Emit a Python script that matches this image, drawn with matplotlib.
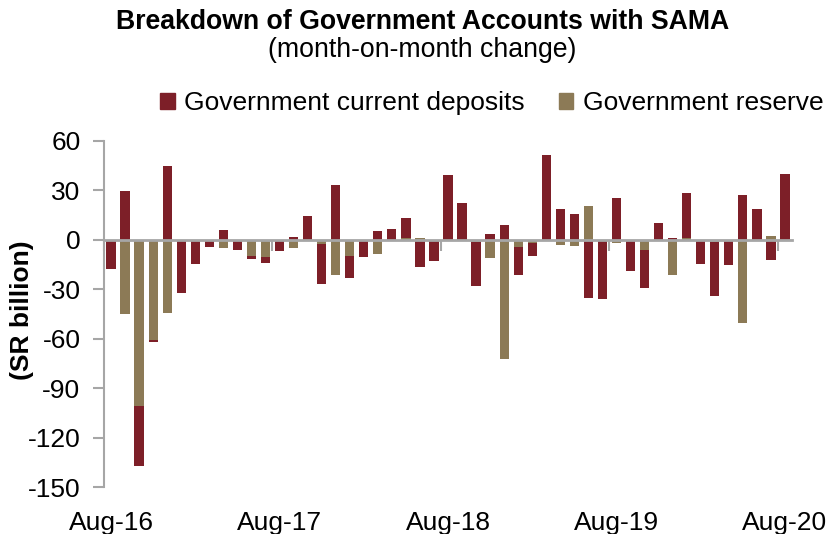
import numpy as np
import pandas as pd
import matplotlib
matplotlib.use('Agg')
import matplotlib.pyplot as plt
from matplotlib.patches import Patch

plt.rcParams['font.family'] = ['Liberation Sans', 'DejaVu Sans']
plt.rcParams['axes.unicode_minus'] = False

# months Aug-16 .. Aug-20
months = pd.date_range('2016-08-01', '2020-08-01', freq='MS')
x_labels = ['Aug-16', 'Aug-17', 'Aug-18', 'Aug-19', 'Aug-20']

# month-on-month change, SR billion
deposits = [-17.7, 29.4, -36.4, -1.4, 44.7, -32.2, -14.9, -4.2, 6.0, -6.4, -1.8, -3.6,
            -6.6, 1.6, 14.7, -23.7, 33.0, -13.5, -10.3, 5.4, 6.6, 12.0, -16.7, -12.7,
            39.2, 22.3, -27.0, 3.4, 9.3, -17.1, -7.4, 51.3, 18.7, 15.5, -35.0, -35.8,
            25.2, -19.1, -22.9, 10.5, 1.4, 27.2, -14.7, -33.0, -15.5, 27.0, 18.7, -12.3,
            40.2]
reserve = [0, -45.3, -100.6, -60.6, -44.5, 0, 0, 0, -5.0, 0, -10.0, -10.3,
           0, -4.8, 0, -2.8, -21.1, -9.7, 0, -8.7, 0, 1.0, 1.0, 0,
           0, 0, -1.0, -11.3, -72.2, -4.4, -2.2, 0, -3.2, -3.8, 20.3, 0,
           -1.8, 0, -6.2, 0, -21.1, 1.0, 0, -1.2, 0, -50.3, 0, 2.2,
           0]

red = '#7D1F28'
tan = '#8C7A56'
grey = '#A6A6A6'

dep = np.array(deposits)
res = np.array(reserve)
x = np.arange(len(months))

# reserve sits next to zero, deposits stacked beyond it (same sign side)
dep_bottom = np.where(dep >= 0, np.maximum(res, 0), np.minimum(res, 0))

fig = plt.figure(figsize=(8.35, 5.34), dpi=100)
ax = fig.add_axes([104/835, 1-487/534, (792-104)/835, (487-141)/534])

ax.bar(x, res, width=0.66, color=tan, zorder=2)
ax.bar(x, dep, bottom=dep_bottom, width=0.66, color=red, zorder=2)

ax.set_xlim(-0.5, len(x) - 0.5)
ax.set_ylim(-150, 60)
ax.set_yticks(np.arange(-150, 61, 30))

for s in ['top', 'right']:
    ax.spines[s].set_visible(False)
ax.spines['left'].set_color(grey)
ax.spines['left'].set_linewidth(1.5)
ax.spines['bottom'].set_position(('data', 0))
ax.spines['bottom'].set_color(grey)
ax.spines['bottom'].set_linewidth(2)
ax.spines['bottom'].set_zorder(3)

ax.tick_params(axis='y', length=8, width=1.5, color=grey, pad=9, labelsize=19)
ax.set_xticks([])
ax.set_xticks(np.arange(-0.5, len(x), 12), minor=True)
ax.tick_params(axis='x', which='minor', length=8, width=1.5, color=grey, direction='out')

sec = ax.secondary_xaxis(0.0)
sec.set_xticks(x[::12])
sec.set_xticklabels(x_labels)
sec.spines['bottom'].set_visible(False)
sec.tick_params(length=0, pad=17, labelsize=19)

fig.text(22/835, 1-310/534, '(SR billion)', rotation=90, ha='center', va='center',
         fontsize=19, fontweight='bold')

fig.text(0.506, 1-22/534, 'Breakdown of Government Accounts with SAMA',
         ha='center', va='center', fontsize=19.2, fontweight='bold')
fig.text(0.506, 1-50/534, '(month-on-month change)',
         ha='center', va='center', fontsize=19.2)

handles = [Patch(color=red), Patch(color=tan)]
fig.legend(handles, ['Government current deposits', 'Government reserve'],
           loc='center', bbox_to_anchor=(0.589, 1-103/534), ncol=2, frameon=False,
           fontsize=19, handlelength=0.55, handleheight=0.55, handletextpad=0.35,
           columnspacing=1.3)

fig.savefig('out.png', dpi=100)
